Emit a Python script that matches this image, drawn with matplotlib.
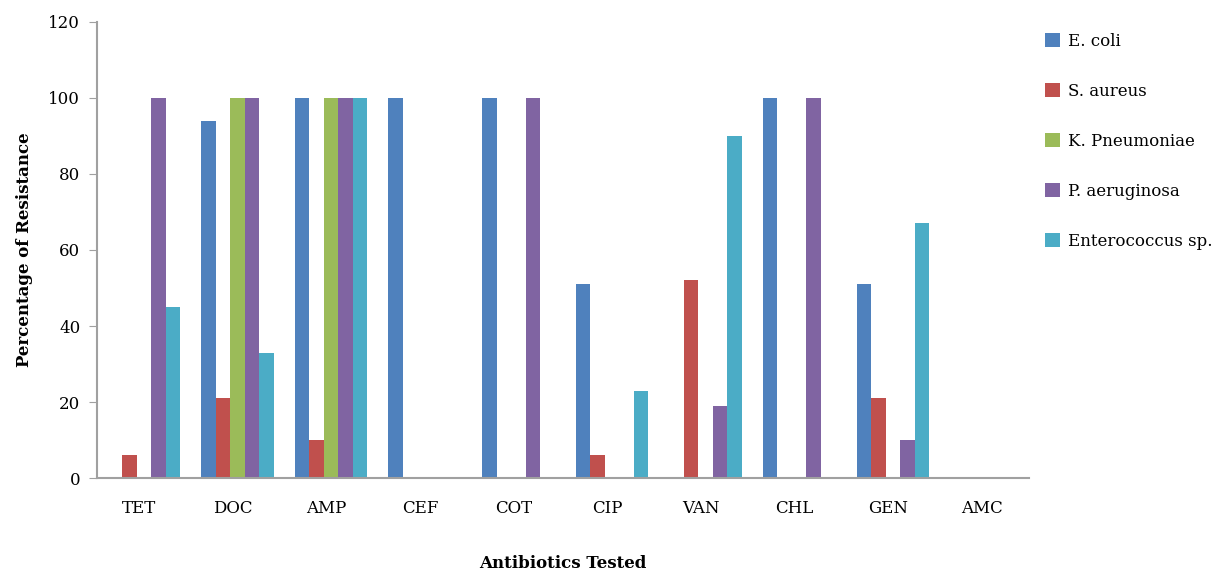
import matplotlib
matplotlib.use("Agg")
import matplotlib.pyplot as plt
import numpy as np

plt.rcParams['font.family'] = ['DejaVu Serif']

antibiotics = ["TET", "DOC", "AMP", "CEF", "COT", "CIP", "VAN", "CHL", "GEN", "AMC"]
species = ["E. coli", "S. aureus", "K. Pneumoniae", "P. aeruginosa", "Enterococcus sp."]

e_coli = [0, 94, 100, 100, 100, 51, 0, 100, 51, 0]
s_aureus = [6, 21, 10, 0, 0, 6, 52, 0, 21, 0]
k_pneumoniae = [0, 100, 100, 0, 0, 0, 0, 0, 0, 0]
p_aeruginosa = [100, 100, 100, 0, 100, 0, 19, 100, 10, 0]
enterococcus = [45, 33, 100, 0, 0, 23, 90, 0, 67, 0]

colors = ["#4F81BD", "#C0504D", "#9BBB59", "#8064A2", "#4BACC6"]

fig = plt.figure(figsize=(12.21, 5.72), dpi=100)
ax = fig.add_axes([0.0794, 0.164, 0.763, 0.798])

x = np.arange(len(antibiotics))
w = 0.155
shift = 0.05  # bar groups sit a little right of the tick labels
series = [e_coli, s_aureus, k_pneumoniae, p_aeruginosa, enterococcus]
for i, (vals, name) in enumerate(zip(series, species)):
    ax.bar(x + shift + (i - 2) * w, vals, w, color=colors[i], label=name, linewidth=0)

ax.set_xlim(-0.45, len(antibiotics) - 0.5)
ax.set_ylim(0, 120)
ax.set_yticks(range(0, 121, 20))
ax.set_xticks(x)
ax.set_xticklabels(antibiotics, fontsize=12)
ax.tick_params(axis='x', length=0, pad=16)
ax.tick_params(axis='y', labelsize=12, length=6, color="#A0A0A0", direction='out', pad=6)

for s in ["top", "right"]:
    ax.spines[s].set_visible(False)
for s in ["left", "bottom"]:
    ax.spines[s].set_color("#A0A0A0")
    ax.spines[s].set_linewidth(1.5)

ax.set_xlabel("Antibiotics Tested", fontsize=12, fontweight='bold', labelpad=27)
ax.set_ylabel("Percentage of Resistance", fontsize=12, fontweight='bold', labelpad=11)

ax.legend(loc='upper left', bbox_to_anchor=(1.002, 1.008), frameon=False, fontsize=12,
          handlelength=0.85, handleheight=0.9, handletextpad=0.5, labelspacing=1.98)

fig.savefig("out.png", dpi=100)
